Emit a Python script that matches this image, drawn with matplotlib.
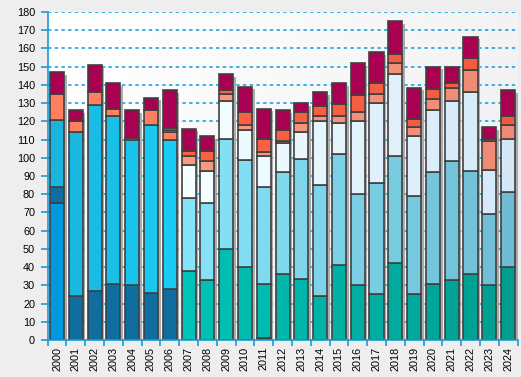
import matplotlib
matplotlib.use("Agg")

import matplotlib.pyplot as plt
import numpy as np
from matplotlib.colors import to_rgb

years = [str(y) for y in range(2000, 2025)]

# stacked layers, bottom to top
base = [75, 24, 27, 30.5, 30, 26, 28, 38, 33, 50, 40, 1, 36, 33.5, 24, 41,
        30, 25.5, 42, 25.5, 30.5, 33, 36, 30, 40]
extra = [9, 0, 0, 0, 0, 0, 0, 0, 0, 0, 0, 29.5, 0, 0, 0, 0,
         0, 0, 0, 0, 0, 0, 0, 0, 0]
light_blue = [37, 90, 102, 92.5, 80, 92, 82, 40, 42, 60.5, 59, 53.5, 56, 66, 61, 61,
              50, 60.5, 59, 53.5, 61.5, 65.5, 56.5, 39, 41]
coral = [14, 6, 7, 4, 1, 8, 4, 0, 0, 0, 0, 0, 0, 0, 0, 0,
         0, 0, 0, 0, 0, 0, 0, 0, 0]
pale = [0, 0, 0, 0, 0, 0, 1, 0, 0, 0, 0, 0, 0, 0, 0, 0,
        0, 0, 0, 0, 0, 0, 0, 0, 0]
white = [0, 0, 0, 0, 0, 0, 1.5, 18, 18, 20.5, 16, 17, 16, 14.5, 35, 17,
         40, 44, 45, 33, 34, 32.5, 43.5, 24.5, 29.5]
salmon = [0, 0, 0, 0, 0, 0, 0, 5, 5, 4, 3, 2, 1, 5, 3, 4,
          5, 5, 6, 5, 6.5, 7.5, 12, 15.5, 7.5]
orange = [0, 0, 0, 0, 0, 0, 0, 3, 6, 2, 7, 7.5, 6.5, 6, 5.5, 6.5,
          9.5, 6, 5, 4.5, 5, 2.5, 6.5, 1.5, 5]
crimson = [12, 6, 15, 14, 15, 7, 20.5, 12, 8, 9, 14, 16.5, 10.5, 5, 7.5, 11.5,
           17.5, 17, 18, 17, 12.5, 9, 12, 6.5, 14]


def ramp(c0, c1, n):
    a, b = np.array(to_rgb(c0)), np.array(to_rgb(c1))
    return [tuple(a + (b - a) * t) for t in np.linspace(0, 1, n)]


n_old, n_new = 7, len(years) - 7

base_colors = ["#0099dd"] + ["#0f6d9f"] * 6 + ramp("#00c2b6", "#009e90", n_new)
base_colors[11] = "#1a78c8"
extra_colors = ["#0f6d9f"] * len(years)
extra_colors[11] = base_colors[10]
lb_colors = ramp("#1ab4dc", "#18ccf4", n_old) + ramp("#86e4f8", "#6fbdd4", n_new)
white_colors = ["#ffffff"] * n_old + ramp("#f4ffff", "#d4e8f8", n_new)
salmon_colors = ramp("#ffa088", "#ee8a74", len(years))
orange_colors = ramp("#ff6644", "#f05a40", len(years))

layers = [
    (base, base_colors),
    (extra, extra_colors),
    (light_blue, lb_colors),
    (coral, ["#ff7f60"] * len(years)),
    (pale, ["#c8ecf8"] * len(years)),
    (white, white_colors),
    (salmon, salmon_colors),
    (orange, orange_colors),
    (crimson, ["#aa0052"] * len(years)),
]

fig = plt.figure(figsize=(5.21, 3.77), dpi=100, facecolor="#eeeeee")
ax = fig.add_axes([0.0914, 0.0981, 0.9019, 0.8700])
ax.set_facecolor("#eeeeee")
ax.set_axisbelow(True)

x = np.arange(len(years))
width = 0.75

# plot area background gradient
gx, gy = np.meshgrid(np.linspace(0, 1, 200), np.linspace(0, 1, 200))
shade = 0.985 - 0.05 * gx + 0.02 * gy
ax.imshow(np.dstack([shade] * 3), extent=(-0.5, len(years) - 0.5, 0, 180),
          aspect="auto", zorder=0, origin="lower")

ax.set_xlim(-0.5, len(years) - 0.5)
ax.set_ylim(0, 180)

for v in range(10, 181, 10):
    ax.axhline(v, color="#0b9ae0", lw=1.1, ls=(0, (2.2, 2.2)), zorder=0.5)

totals = np.sum([np.array(v) for v, _ in layers], axis=0)
ax.bar(x + 0.14, totals - 1.5, width=width, color="#9a9a9a", alpha=0.8,
       zorder=2, linewidth=0)

bottom = np.zeros(len(years))
for vals, cols in layers:
    vals = np.array(vals, dtype=float)
    mask = vals > 0
    ax.bar(x[mask], vals[mask], width=width, bottom=bottom[mask],
           color=[c for c, m in zip(cols, mask) if m],
           edgecolor="#404040", linewidth=1.2, zorder=3)
    bottom += vals

ax.set_yticks(range(0, 181, 10))
ax.set_xticks(x)
ax.set_xticklabels(years, rotation=90, fontsize=7.8, family="Liberation Sans")
ax.set_xticks(np.arange(-0.5, len(years), 1), minor=True)
for lab in ax.get_yticklabels():
    lab.set_fontsize(7.8)
    lab.set_family("Liberation Sans")

ax.tick_params(axis="y", color="#1a9ad6", length=5, width=1.2, pad=4)
ax.tick_params(axis="x", which="major", length=0, pad=5)
ax.tick_params(axis="x", which="minor", color="#1a9ad6", length=4, width=1.2)

for side in ("top", "right"):
    ax.spines[side].set_visible(False)
for side in ("left", "bottom"):
    ax.spines[side].set_color("#1a9ad6")
    ax.spines[side].set_linewidth(1.2)
    ax.spines[side].set_zorder(5)

fig.savefig("out.png", dpi=100, facecolor=fig.get_facecolor())
